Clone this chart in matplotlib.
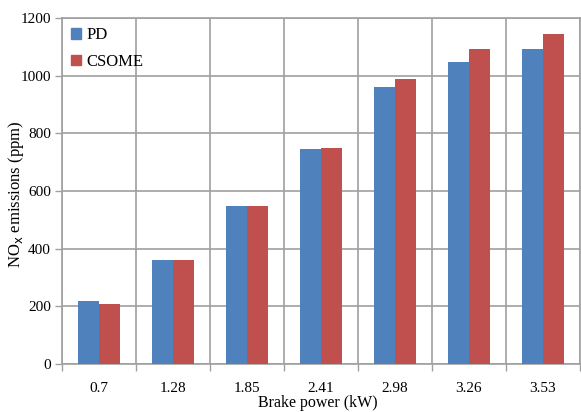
import matplotlib
matplotlib.use("Agg")
import matplotlib.pyplot as plt
import numpy as np
from matplotlib.patches import Patch

categories = ["0.7", "1.28", "1.85", "2.41", "2.98", "3.26", "3.53"]
pd_vals = [219, 360, 548, 744, 961, 1046, 1091]
csome_vals = [209, 360, 548, 750, 990, 1091, 1146]
yticks = [0, 200, 400, 600, 800, 1000, 1200]

blue = "#4F81BD"
red = "#C0504D"
grid_c = "#A0A0A0"

plt.rcParams["font.family"] = ["Liberation Serif", "DejaVu Serif"]

fig = plt.figure(figsize=(5.81, 4.12), dpi=100)
ax = fig.add_axes([0.1067, 0.1165, 0.8915, 0.8398])

x = np.arange(len(categories))
w = 0.285
ax.bar(x - w/2, pd_vals, w, color=blue, label="PD", zorder=3)
ax.bar(x + w/2, csome_vals, w, color=red, label="CSOME", zorder=3)

ax.set_xlim(-0.5, len(categories) - 0.5)
ax.set_ylim(0, 1200)
ax.set_yticks(yticks)
ax.set_yticklabels([str(v) for v in yticks], fontsize=11)
ax.set_xticks(x)
ax.set_xticklabels(categories, fontsize=11)
ax.tick_params(axis="x", length=0, pad=13)
ax.set_xticks(np.arange(-0.5, len(categories)), minor=True)
ax.tick_params(axis="x", which="minor", length=5, color=grid_c, width=1)
ax.tick_params(axis="y", length=5, color=grid_c, width=1, pad=3)

ax.grid(True, axis="y", which="major", color=grid_c, lw=1.2, zorder=0)
ax.grid(True, axis="x", which="minor", color=grid_c, lw=1.2, zorder=0)
for s in ax.spines.values():
    s.set_color(grid_c)
    s.set_linewidth(1.2)

ax.set_ylabel("NO$_\\mathrm{x}$ emissions (ppm)", fontsize=12, va="center")
ax.yaxis.set_label_coords(-0.088, 0.49)
ax.set_xlabel("Brake power (kW)", fontsize=11.5, va="center")
ax.xaxis.set_label_coords(0.494, -0.113)

handles = [Patch(color=blue), Patch(color=red)]
leg = ax.legend(handles, ["PD", "CSOME"], loc="upper left", frameon=False,
                fontsize=12, handlelength=0.6, handleheight=0.6,
                handletextpad=0.3, labelspacing=0.65,
                bbox_to_anchor=(0.0, 1.0), borderaxespad=0.15)

fig.savefig("out.png", dpi=100)
